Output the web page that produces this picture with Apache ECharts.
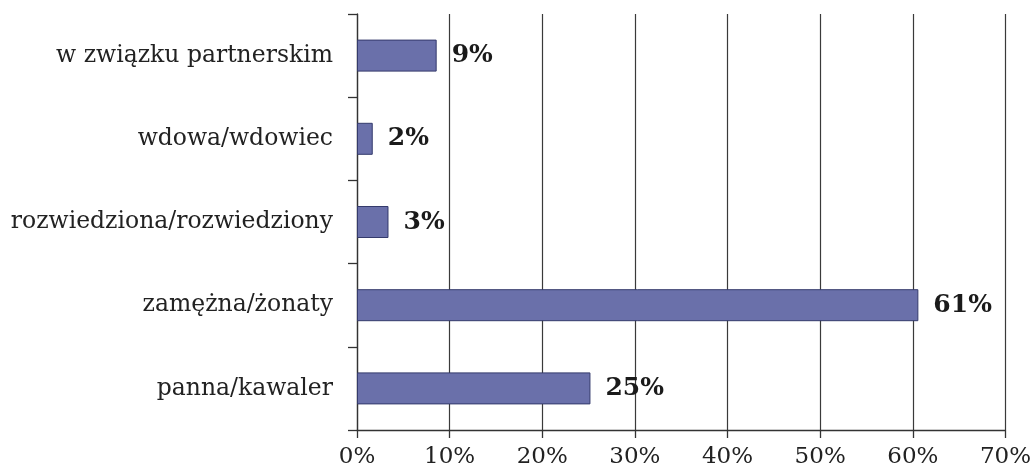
<!DOCTYPE html>
<html>
<head>
<meta charset="utf-8">
<script src="https://cdn.jsdelivr.net/npm/echarts@6/dist/echarts.min.js"></script>
<style>
html,body{margin:0;padding:0;background:#fff;}
#chart{width:1034px;height:475px;}
</style>
</head>
<body>
<div id="chart"></div>
<script>
const categories = ['panna/kawaler', 'zamężna/żonaty', 'rozwiedziona/rozwiedziony', 'wdowa/wdowiec', 'w związku partnerskim'];
const values = [25.2, 60.6, 3.4, 1.7, 8.6];
const valueLabels = ['25%', '61%', '3%', '2%', '9%'];
const xTicks = { min: 0, max: 70, interval: 10 };

const chart = echarts.init(document.getElementById('chart'));
chart.setOption({
  animation: false,
  backgroundColor: '#ffffff',
  grid: { left: 357, right: 27, top: 14, bottom: 45, containLabel: false },
  xAxis: {
    type: 'value',
    min: xTicks.min, max: xTicks.max, interval: xTicks.interval,
    axisLine: { show: true, lineStyle: { color: '#333', width: 1.3 } },
    axisTick: { show: true, length: 8, lineStyle: { color: '#333', width: 1.3 } },
    splitLine: { show: true, lineStyle: { color: '#3a3a3a', width: 1.2 } },
    axisLabel: {
      formatter: v => v + '%',
      fontFamily: 'DejaVu Serif', fontSize: 23, color: '#222', margin: 16
    }
  },
  yAxis: {
    type: 'category',
    data: categories,
    axisLine: { show: true, lineStyle: { color: '#333', width: 1.3 } },
    axisTick: { show: true, length: 9, lineStyle: { color: '#333', width: 1.3 } },
    axisLabel: { fontFamily: 'DejaVu Serif', fontSize: 23.5, color: '#222', margin: 24 }
  },
  series: [{
    type: 'bar',
    data: values,
    barWidth: 32,
    itemStyle: { color: '#6a70aa', borderColor: '#343a6c', borderWidth: 1 },
    label: {
      show: true, position: 'right', distance: 15,
      formatter: p => valueLabels[p.dataIndex],
      fontFamily: 'DejaVu Serif', fontWeight: 'bold', fontSize: 25, color: '#1a1a1a'
    }
  }]
});
</script>
</body>
</html>
